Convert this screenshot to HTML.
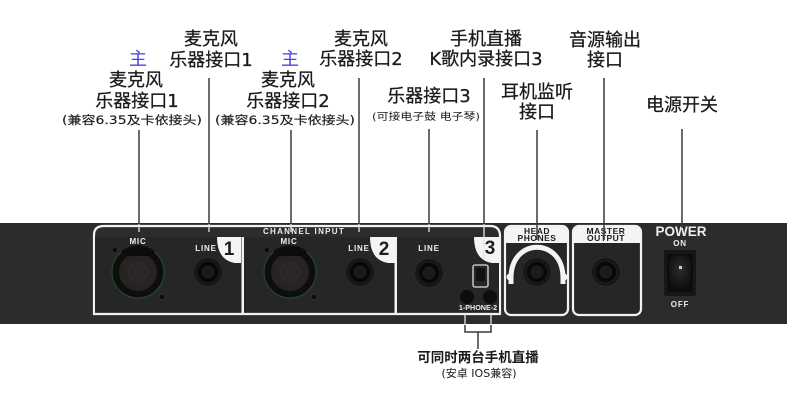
<!DOCTYPE html>
<html><head><meta charset="utf-8"><style>
html,body{margin:0;padding:0;background:#fff}
svg{display:block}
.c{font-family:"DejaVu Sans","Noto Sans CJK SC",sans-serif;text-anchor:middle;fill:#1a1a1a}
.l{font-size:18px;stroke:#1a1a1a;stroke-width:.25px}
.s{font-size:11.5px;stroke:#1a1a1a;stroke-width:.15px}
.p{font-family:"Liberation Sans",sans-serif;font-weight:bold;fill:#eee;text-anchor:middle;font-size:8px;letter-spacing:.8px}
.k{fill:#1d1d1f;font-family:"Liberation Sans",sans-serif;font-weight:bold;text-anchor:middle;font-size:8.5px;letter-spacing:.5px}
.n{fill:#1d1d1f;font-family:"Liberation Sans",sans-serif;font-weight:bold;text-anchor:middle;font-size:19px}
</style></head><body>
<svg width="790" height="404" viewBox="0 0 790 404" xmlns="http://www.w3.org/2000/svg">
<defs>
<radialGradient id="sw" cx=".5" cy=".4" r=".6"><stop offset="0" stop-color="#2c2c2e"/><stop offset="1" stop-color="#0c0c0d"/></radialGradient>
<g id="jack"><circle r="14.500" fill="#161617" stroke="#2a2a2b" stroke-width="1"/><circle r="11" fill="#0a0a0b" stroke="#1e1e1f"/><circle r="7.500" fill="#1b1b1c" stroke="#060606" stroke-width="1.5"/></g>
<g id="xlr"><circle r="26" fill="#0e0e0e" stroke="#1f5428" stroke-width="1"/><circle r="19" fill="#272323"/><circle r="11" fill="#2d2828"/><circle cx="-7" r="1" fill="#1a1616"/><circle cx="7" r="1" fill="#1a1616"/><circle cy="8" r="1" fill="#1a1616"/><path d="M-17-20.500A26.500 26.500 0 0 1 17-20.500L12-16H-12Z" fill="#0c0c0c"/><circle cx="-23" cy="-22" r="3" fill="#0d0d0d" stroke="#333"/><circle cx="24" cy="25" r="3" fill="#0d0d0d" stroke="#333"/></g>
</defs>
<rect width="790" height="404" fill="#fff"/>

<!-- panel -->
<rect x="0" y="223" width="787" height="101" fill="#2c2b2d"/>

<!-- channel input frame -->
<path d="M94 314V235Q94 226 104 226H490Q500 226 500 236V314Z" fill="#2c2b2d" stroke="#f2f2f2" stroke-width="2.200"/>
<rect x="95" y="237" width="146" height="75.500" fill="#262628"/>
<rect x="244" y="237" width="151" height="75.500" fill="#262628"/>
<rect x="397" y="237" width="102" height="75.500" fill="#262628"/>
<rect x="241.500" y="237" width="2.500" height="77" fill="#f2f2f2"/>
<rect x="394.500" y="237" width="2.500" height="77" fill="#f2f2f2"/>
<path d="M217 237H241V263H235Q217 260 217 237Z" fill="#f4f4f4"/>
<path d="M370 237H395V263H388Q370 260 370 237Z" fill="#f4f4f4"/>
<path d="M474 237H499V263H492Q474 260 474 237Z" fill="#f4f4f4"/>
<text class="n" x="229" y="255">1</text>
<text class="n" x="384" y="255">2</text>
<text class="n" x="490" y="254">3</text>
<text class="p" x="304" y="234" style="letter-spacing:1.300px">CHANNEL INPUT</text>
<text class="p" x="138" y="244">MIC</text>
<text class="p" x="206" y="251">LINE</text>
<text class="p" x="289" y="244">MIC</text>
<text class="p" x="359" y="251">LINE</text>
<text class="p" x="429" y="251">LINE</text>
<use href="#xlr" x="138" y="272"/>
<use href="#jack" x="208" y="272"/>
<use href="#xlr" x="290" y="272"/>
<use href="#jack" x="360" y="272"/>
<use href="#jack" x="429" y="273"/>

<!-- phone -->
<rect x="473" y="265" width="15" height="22" rx="2" fill="none" stroke="#bdbdbd" stroke-width="1.600"/>
<rect x="476" y="268" width="9" height="13" fill="#111"/>
<circle cx="467" cy="297" r="7" fill="#0d0d0e"/>
<circle cx="490" cy="297" r="7" fill="#0d0d0e"/>
<text x="478" y="310" font-family="Liberation Sans,sans-serif" font-weight="bold" font-size="7.200" fill="#eee" text-anchor="middle">1-PHONE-2</text>

<!-- headphones -->
<rect x="505" y="226" width="63" height="89" rx="6" fill="#262628" stroke="#f2f2f2" stroke-width="2.200"/>
<path d="M506 243V232Q506 227 511 227H562Q567 227 567 232V243Z" fill="#f4f4f4"/>
<text class="k" x="537" y="234">HEAD</text>
<text class="k" x="537" y="241">PHONES</text>
<path d="M511 284V278C511 237 563 237 563 278V284" fill="none" stroke="#f4f4f4" stroke-width="5"/>
<circle cx="510" cy="277" r="3.500" fill="#f4f4f4"/><circle cx="564" cy="277" r="3.500" fill="#f4f4f4"/>
<use href="#jack" x="537" y="272"/>

<!-- master -->
<rect x="573" y="226" width="68" height="89" rx="6" fill="#262628" stroke="#f2f2f2" stroke-width="2.200"/>
<path d="M574 243V232Q574 227 579 227H635Q640 227 640 232V243Z" fill="#f4f4f4"/>
<text class="k" x="606" y="234">MASTER</text>
<text class="k" x="606" y="241">OUTPUT</text>
<use href="#jack" x="606" y="272"/>

<!-- power -->
<text x="681" y="236" font-family="Liberation Sans,sans-serif" font-weight="bold" font-size="13.500" fill="#eee" text-anchor="middle">POWER</text>
<text class="p" x="680" y="246">ON</text>
<text class="p" x="680" y="307">OFF</text>
<rect x="664" y="250" width="32" height="46" rx="2" fill="#171718"/>
<rect x="668" y="255" width="24" height="36" fill="url(#sw)" stroke="#070707"/>
<rect x="679" y="266" width="3" height="3" fill="#ccc"/>

<!-- leaders -->
<g stroke="#3a3a3a" stroke-width="1.500" fill="none">
<path d="M139 130V224M209 78V224M291 130V224M359 78V224M429 129V224"/>
<path d="M484 78V224M537 130V224M604 78V224M682 129V224"/>
<path d="M465 325V332H491V325M478 332V349"/>
</g>
<g stroke="#e4e4e4" stroke-width="1.300">
<path d="M139 224V232M209 224V232M291 224V232M359 224V232M429 224V232M484 224V260"/>
<path d="M465 314V325M491 314V325"/>
</g>
<path d="M537 224V240M604 224V240M682 224V228" stroke="#3a3a3a" stroke-width="1.500"/>

<!-- labels -->
<text class="c" x="138" y="65" style="font-size:18px;fill:#4a3cf0">主</text>
<text class="c" x="290" y="65" style="font-size:18px;fill:#4a3cf0">主</text>
<text class="c l" x="211" y="45">麦克风</text>
<text class="c l" x="211" y="66">乐器接口1</text>
<text class="c l" x="136" y="86">麦克风</text>
<text class="c l" x="137" y="107">乐器接口1</text>
<text class="c s" x="132" y="124" textLength="140" lengthAdjust="spacingAndGlyphs">(兼容6.35及卡依接头)</text>
<text class="c l" x="361" y="45">麦克风</text>
<text class="c l" x="361" y="65">乐器接口2</text>
<text class="c l" x="288" y="86">麦克风</text>
<text class="c l" x="288" y="107">乐器接口2</text>
<text class="c s" x="285" y="124" textLength="140" lengthAdjust="spacingAndGlyphs">(兼容6.35及卡依接头)</text>
<text class="c l" x="486" y="45">手机直播</text>
<text class="c l" x="486" y="65">K歌内录接口3</text>
<text class="c l" x="429" y="102">乐器接口3</text>
<text class="c" x="426" y="120" style="font-size:10px" textLength="108" lengthAdjust="spacingAndGlyphs">(可接电子鼓 电子琴)</text>
<text class="c l" x="537" y="98">耳机监听</text>
<text class="c l" x="537" y="118">接口</text>
<text class="c l" x="605" y="46">音源输出</text>
<text class="c l" x="605" y="66">接口</text>
<text class="c l" x="682" y="111">电源开关</text>
<text class="c" x="478" y="362" style="font-size:13.500px;font-weight:bold">可同时两台手机直播</text>
<text class="c" x="479" y="377" style="font-size:11px">(安卓 IOS兼容)</text>
</svg>
</body></html>
